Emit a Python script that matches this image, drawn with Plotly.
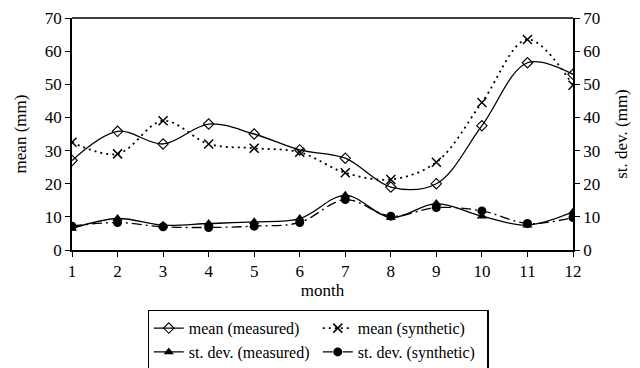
import plotly.graph_objects as go

months = list(range(1, 13))
mean_measured = [27.0, 35.8, 32.0, 38.0, 35.0, 30.2, 27.7, 19.0, 20.0, 37.5, 56.5, 53.0]
mean_synthetic = [32.5, 29.0, 39.0, 32.0, 30.7, 29.5, 23.3, 21.3, 26.5, 44.5, 63.5, 49.7]
std_measured = [6.5, 9.5, 7.5, 8.0, 8.5, 9.5, 16.5, 9.8, 14.0, 10.2, 7.5, 11.5]
std_synthetic = [7.2, 8.3, 7.0, 6.8, 7.2, 8.3, 15.2, 10.2, 12.8, 11.8, 8.0, 9.8]
tick_vals = [0, 10, 20, 30, 40, 50, 60, 70]

FONT = "Liberation Serif"

fig = go.Figure()
fig.add_trace(go.Scatter(
    x=months, y=mean_measured, name="mean (measured)", mode="lines+markers",
    line=dict(color="black", width=1.3, shape="spline", smoothing=1),
    marker=dict(symbol="diamond-open", size=8, color="black", line=dict(width=1.1))))
fig.add_trace(go.Scatter(
    x=months, y=mean_synthetic, name="mean (synthetic)", mode="lines+markers",
    line=dict(color="black", width=1.8, dash="2px,4px", shape="spline", smoothing=1),
    marker=dict(symbol="x-thin-open", size=9, color="black", line=dict(width=1.5, color="black"))))
fig.add_trace(go.Scatter(
    x=months, y=std_measured, name="st. dev. (measured)", mode="lines+markers", yaxis="y2",
    line=dict(color="black", width=1.3, shape="spline", smoothing=1),
    marker=dict(symbol="triangle-up", size=9, color="black")))
fig.add_trace(go.Scatter(
    x=months, y=std_synthetic, name="st. dev. (synthetic)", mode="lines+markers", yaxis="y2",
    line=dict(color="black", width=1.3, dash="10px,4px,2px,4px", shape="spline", smoothing=1),
    marker=dict(symbol="circle", size=9, color="black")))

axis_common = dict(showgrid=False, zeroline=False, showline=True, linecolor="black", linewidth=1.5,
                   ticks="outside", ticklen=5, tickcolor="black", tickwidth=1.2, automargin=False,
                   tickfont=dict(family=FONT, size=17, color="black"))
title_font = dict(family=FONT, size=17, color="black")

fig.update_layout(
    width=640, height=368,
    margin=dict(l=72, r=67, t=18, b=118),
    plot_bgcolor="white", paper_bgcolor="white",
    font=dict(family=FONT, size=17, color="black"),
    xaxis=dict(range=[1, 12], tickvals=months,
               title=dict(text="month", font=title_font, standoff=4),
               **axis_common),
    yaxis=dict(range=[0, 70], tickvals=tick_vals,
               title=dict(text="mean (mm)", font=title_font, standoff=14),
               **axis_common),
    yaxis2=dict(range=[0, 70], tickvals=tick_vals, overlaying="y", side="right",
                title=dict(text="st. dev. (mm)", font=title_font, standoff=16),
                **axis_common),
    showlegend=True,
    legend=dict(orientation="h", xref="container", x=0.497, xanchor="center",
                yref="container", y=1 - 310 / 368, yanchor="top",
                bordercolor="black", borderwidth=1.2, bgcolor="white",
                font=dict(family=FONT, size=16, color="black"),
                entrywidth=124, entrywidthmode="pixels", itemwidth=30,
                tracegroupgap=0, traceorder="normal"),
)
fig.add_shape(type="line", xref="paper", yref="paper", x0=0, x1=1, y0=1, y1=1,
              line=dict(color="black", width=1.5))

fig.write_html("out.html", config={"displayModeBar": False},
               post_script="document.body.style.margin='0';")
